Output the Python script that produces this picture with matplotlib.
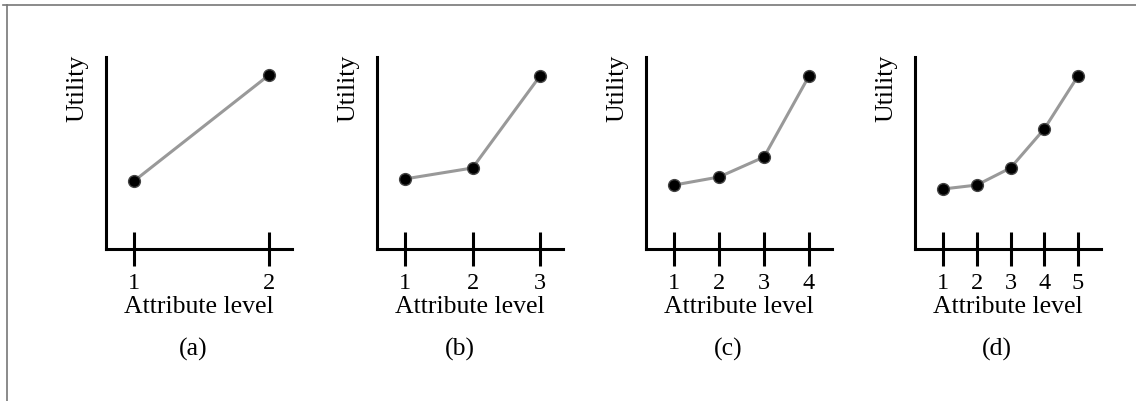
import matplotlib
matplotlib.use('Agg')
import matplotlib.pyplot as plt
from matplotlib.lines import Line2D
import numpy as np

plt.rcParams['font.family'] = ['Liberation Serif', 'DejaVu Serif']

# utility per attribute level, one list per panel (axis height = 1)
util_a = [0.354, 0.906]
util_b = [0.365, 0.422, 0.901]
util_c = [0.333, 0.375, 0.479, 0.901]
util_d = [0.3125, 0.333, 0.422, 0.625, 0.901]
panels = [util_a, util_b, util_c, util_d]
captions = ["(a)", "(b)", "(c)", "(d)"]

W, H = 1136, 401
fig = plt.figure(figsize=(W / 100, H / 100), dpi=100)

# thin frame on top and left edge
fig.add_artist(Line2D([3 / W, 1], [1 - 5 / H, 1 - 5 / H], color='#777777', lw=1.2))
fig.add_artist(Line2D([6.5 / W, 6.5 / W], [0, 1 - 5 / H], color='#777777', lw=1.2))

x0s = [106, 377, 646, 915]
cap_x = [193, 460, 728, 997]
ax_w, ax_top, ax_bot = 186, 57, 249

for util, cap, x0, cx in zip(panels, captions, x0s, cap_x):
    n = len(util)
    levels = np.arange(1, n + 1)
    ax = fig.add_axes([x0 / W, 1 - ax_bot / H, ax_w / W, (ax_bot - ax_top) / H])
    unit = 135.0 / (n - 1)
    ax.set_xlim(1 - 28 / unit, n + 23 / unit)
    ax.set_ylim(0, 1)
    ax.plot(levels, util, color='#999999', lw=2.2, zorder=2)
    ax.plot(levels, util, 'o', color='black', ms=8.5, mec='#444444', mew=1, zorder=3)

    for s in ['top', 'right']:
        ax.spines[s].set_visible(False)
    for s in ['left', 'bottom']:
        ax.spines[s].set_linewidth(2.2)
        ax.spines[s].set_color('black')
    ax.set_yticks([])
    ax.set_xticks(levels)
    ax.tick_params(axis='x', direction='inout', length=24, width=2.2, pad=5,
                   labelsize=17.5, color='black')
    ax.set_facecolor('none')

    ax.text(-0.155, 1.01, "Utility", rotation=90, ha='center', va='top',
            fontsize=18.5, transform=ax.transAxes)
    ax.text(0.5, -0.245, "Attribute level", ha='center', va='top',
            fontsize=18.5, transform=ax.transAxes)
    fig.text(cx / W, 1 - 349 / H, cap, ha='center', va='center', fontsize=18.5)

fig.savefig('out.png', dpi=100)
